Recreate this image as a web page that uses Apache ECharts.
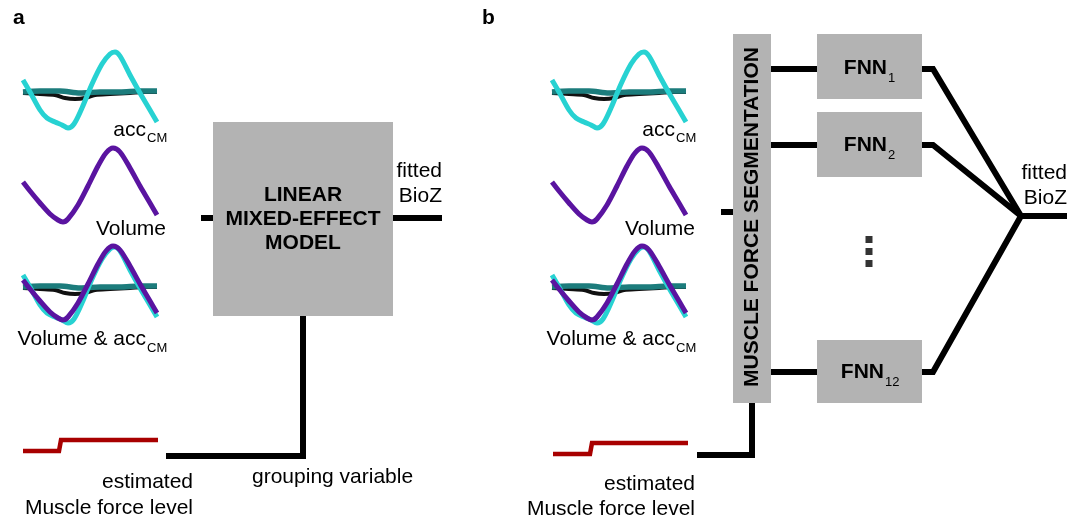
<!DOCTYPE html>
<html>
<head>
<meta charset="utf-8">
<script src="https://cdn.jsdelivr.net/npm/echarts@6/dist/echarts.min.js"></script>
<style>
  html, body { margin: 0; padding: 0; background: #fff; }
  #chart { width: 1083px; height: 521px; }
</style>
</head>
<body>
<div id="chart"></div>
<script>
// trace points (panel a, in page pixels)
const accX   = [23, 30, 40, 47, 55, 62, 68, 74, 82, 92, 102, 110, 115, 120, 130, 140, 150, 157];
const accY   = [80, 92, 110, 118, 122, 125, 128, 124, 108, 84, 64, 54, 52, 56, 75, 93, 110, 122];
const tealX  = [23, 40, 60, 80, 100, 120, 140, 157];
const tealY  = [92, 91, 91, 93, 92, 92, 91, 91];
const blackX = [23, 40, 55, 65, 75, 85, 95, 110, 130, 145, 157];
const blackY = [93, 94, 95, 98, 99, 98, 95, 94, 93, 92, 92];
const volX   = [23, 30, 40, 50, 58, 63, 68, 78, 88, 98, 106, 113, 120, 130, 140, 150, 157];
const volY   = [182, 191, 203, 214, 220, 222, 219, 205, 186, 166, 153, 148, 152, 168, 186, 203, 215];
const forceA = [[23, 451], [59, 451], [61, 440], [158, 440]];
const forceB = [[553, 454], [590, 454], [592, 443], [688, 443]];

// block diagram pieces
const boxes = [
  [213, 122, 393, 316],
  [733, 34, 771, 403],
  [817, 34, 922, 99],
  [817, 112, 922, 177],
  [817, 340, 922, 403]
];
const wires = [
  [[201, 218], [213, 218]],
  [[393, 218], [442, 218]],
  [[166, 456], [303, 456], [303, 316]],
  [[721, 212], [733, 212]],
  [[697, 455], [752, 455], [752, 403]],
  [[771, 69], [817, 69]],
  [[771, 145], [817, 145]],
  [[771, 372], [817, 372]],
  [[922, 69], [933, 69], [1021, 216]],
  [[922, 145], [933, 145], [1021, 216]],
  [[922, 372], [933, 372], [1021, 216]],
  [[1021, 216], [1067, 216]]
];
const dots = [[869, 239.5], [869, 251.5], [869, 263.5]];

// text, x, y (middle), align, kind
const labels = [
  ['a', 13, 18, 'left', 'head'],
  ['b', 482, 18, 'left', 'head'],
  ['acc', 146, 130, 'right', 'body'],
  ['CM', 147, 138.5, 'left', 'sub'],
  ['Volume', 166, 229, 'right', 'body'],
  ['Volume & acc', 146, 339, 'right', 'body'],
  ['CM', 147, 348.5, 'left', 'sub'],
  ['estimated', 193, 482, 'right', 'body'],
  ['Muscle force level', 193, 508, 'right', 'body'],
  ['grouping variable', 252, 477, 'left', 'body'],
  ['fitted', 442, 171, 'right', 'body'],
  ['BioZ', 442, 196, 'right', 'body'],
  ['LINEAR', 303, 195, 'center', 'bold'],
  ['MIXED-EFFECT', 303, 219, 'center', 'bold'],
  ['MODEL', 303, 243, 'center', 'bold'],
  ['acc', 675, 130, 'right', 'body'],
  ['CM', 676, 138.5, 'left', 'sub'],
  ['Volume', 695, 229, 'right', 'body'],
  ['Volume & acc', 675, 339, 'right', 'body'],
  ['CM', 676, 348.5, 'left', 'sub'],
  ['estimated', 695, 484, 'right', 'body'],
  ['Muscle force level', 695, 509, 'right', 'body'],
  ['fitted', 1067, 173, 'right', 'body'],
  ['BioZ', 1067, 198, 'right', 'body'],
  ['MUSCLE FORCE SEGMENTATION', 752, 217, 'center', 'vert'],
  ['FNN', 887, 68, 'right', 'bold'],
  ['1', 888, 78, 'left', 'sub'],
  ['FNN', 887, 145, 'right', 'bold'],
  ['2', 888, 155, 'left', 'sub'],
  ['FNN', 884, 372, 'right', 'bold'],
  ['12', 885, 382, 'left', 'sub']
];

const FAMILY = '"Liberation Sans", Arial, Helvetica, sans-serif';
const fonts = {
  head: 'bold 21px ' + FAMILY,
  body: '21px ' + FAMILY,
  bold: 'bold 21px ' + FAMILY,
  vert: 'bold 21px ' + FAMILY,
  sub: '13px ' + FAMILY
};

function pts(xs, ys, dx, dy) {
  return xs.map((x, i) => [x + dx, ys[i] + dy]);
}

function trace(data, color, width) {
  return {
    type: 'line', data: data, showSymbol: false, symbol: 'none', smooth: 0.3,
    silent: true, animation: false,
    lineStyle: { color: color, width: width, cap: 'butt', join: 'round' }
  };
}

function wire(data, color, width) {
  return {
    type: 'line', data: data, showSymbol: false, symbol: 'none',
    silent: true, animation: false,
    lineStyle: { color: color, width: width, cap: 'butt', join: 'miter' }
  };
}

const CYAN = '#27d2d2', TEAL = '#1c7c7c', BLACK = '#111', PURPLE = '#5a14a0', RED = '#a80000';

const series = [];
[0, 529].forEach((dx) => {
  // acc_CM
  series.push(trace(pts(blackX, blackY, dx, 0), BLACK, 4));
  series.push(trace(pts(tealX, tealY, dx, 0), TEAL, 5.5));
  series.push(trace(pts(accX, accY, dx, 0), CYAN, 5));
  // Volume
  series.push(trace(pts(volX, volY, dx, 0), PURPLE, 5));
  // Volume & acc_CM
  series.push(trace(pts(blackX, blackY, dx, 195), BLACK, 4));
  series.push(trace(pts(tealX, tealY, dx, 195), TEAL, 5.5));
  series.push(trace(pts(accX, accY, dx, 195), CYAN, 5));
  series.push(trace(pts(volX, volY, dx, 98), PURPLE, 5));
});

series.push({
  type: 'custom', silent: true, animation: false, z: 1,
  data: boxes,
  encode: { x: [0, 2], y: [1, 3] },
  renderItem: (params, api) => {
    const p0 = api.coord([api.value(0), api.value(1)]);
    const p1 = api.coord([api.value(2), api.value(3)]);
    return {
      type: 'rect',
      shape: { x: p0[0], y: p0[1], width: p1[0] - p0[0], height: p1[1] - p0[1] },
      style: { fill: '#b3b3b3' }
    };
  }
});

wires.forEach((w) => series.push(wire(w, '#000', 6)));
series.push(wire(forceA, RED, 4.5));
series.push(wire(forceB, RED, 4.5));

series.push({
  type: 'scatter', data: dots, symbol: 'rect', symbolSize: 7,
  itemStyle: { color: '#000' }, silent: true, animation: false
});

series.push({
  type: 'custom', silent: true, animation: false, z: 5,
  data: labels.map((l) => [l[1], l[2]]),
  renderItem: (params, api) => {
    const l = labels[params.dataIndex];
    const p = api.coord([api.value(0), api.value(1)]);
    return {
      type: 'text',
      x: p[0], y: p[1],
      rotation: l[4] === 'vert' ? Math.PI / 2 : 0,
      style: {
        text: l[0], x: 0, y: 0, fill: '#000',
        font: fonts[l[4]], align: l[3], verticalAlign: 'middle'
      }
    };
  }
});

const chart = echarts.init(document.getElementById('chart'));
chart.setOption({
  animation: false,
  grid: { left: 0, right: 0, top: 0, bottom: 0 },
  xAxis: { type: 'value', min: 0, max: 1083, show: false },
  yAxis: { type: 'value', min: 0, max: 521, inverse: true, show: false },
  series: series
});
</script>
</body>
</html>
